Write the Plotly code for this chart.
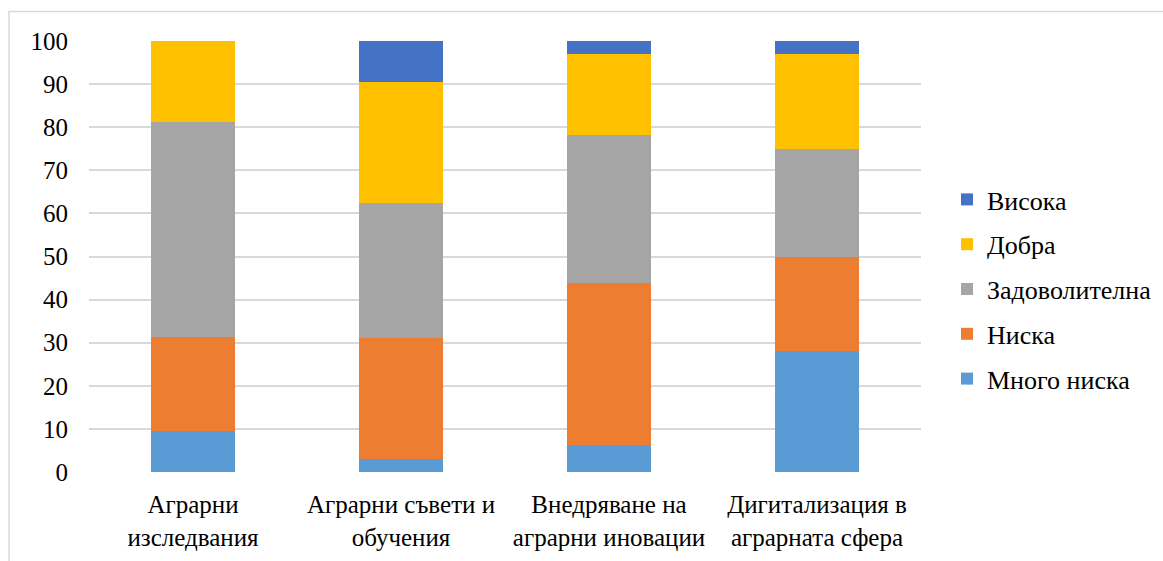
import plotly.graph_objects as go

# Survey results: share of ratings (%) per area, stacked to 100
categories = [
    "Аграрни<br>изследвания",
    "Аграрни съвети и<br>обучения",
    "Внедряване на<br>аграрни иновации",
    "Дигитализация в<br>аграрната сфера",
]
series_names = ["Много ниска", "Ниска", "Задоволителна", "Добра", "Висока"]
mnogo_niska = [9.4, 3.1, 6.3, 28.1]
niska = [21.9, 28.1, 37.5, 21.9]
zadovolitelna = [50.0, 31.3, 34.4, 25.0]
dobra = [18.7, 28.1, 18.7, 21.9]
visoka = [0.0, 9.4, 3.1, 3.1]
y_ticks = [0, 10, 20, 30, 40, 50, 60, 70, 80, 90, 100]

series_values = [mnogo_niska, niska, zadovolitelna, dobra, visoka]
colors = ["#5B9BD5", "#ED7D31", "#A5A5A5", "#FFC000", "#4472C4"]

FONT = "Liberation Serif"

fig = go.Figure()
for i, (name, vals, col) in enumerate(zip(series_names, series_values, colors)):
    fig.add_trace(go.Bar(
        x=categories, y=vals, name=name, legendgroup=name,
        legendrank=len(series_names) - i,
        marker=dict(color=col, line=dict(width=0)),
    ))

W, H = 1163, 561
ml, mr, mt, mb = 89, 242, 41, 89
pw, ph = W - ml - mr, H - mt - mb

def px_x(x):
    return (x - ml) / pw

def px_y(y):
    return (H - mb - y) / ph

fig.update_layout(
    width=W, height=H,
    margin=dict(l=ml, r=mr, t=mt, b=mb, pad=0, autoexpand=False),
    barmode="stack", bargap=0.6,
    plot_bgcolor="white", paper_bgcolor="white",
    font=dict(family=FONT, size=25, color="#000000"),
    xaxis=dict(showgrid=False, showline=False, ticks="", tickangle=0,
               automargin=False,
               tickfont=dict(family=FONT, size=25), ticklabelstandoff=15),
    yaxis=dict(range=[0, 100], tickvals=y_ticks, showgrid=True,
               gridcolor="#D9D9D9", gridwidth=1.5, zeroline=False,
               showline=False, ticks="", ticklabelstandoff=20,
               automargin=False, tickfont=dict(family=FONT, size=25)),
    legend=dict(x=px_x(947), y=px_y(176), xanchor="left", yanchor="top",
                traceorder="grouped", tracegroupgap=8,
                font=dict(family=FONT, size=26), bgcolor="rgba(0,0,0,0)"),
    showlegend=True,
    shapes=[dict(type="rect", xref="paper", yref="paper",
                 x0=px_x(9), y0=px_y(580), x1=px_x(1180), y1=px_y(11.5),
                 line=dict(color="#D9D9D9", width=1.5), layer="below")],
)

fig.write_html("out.html")
